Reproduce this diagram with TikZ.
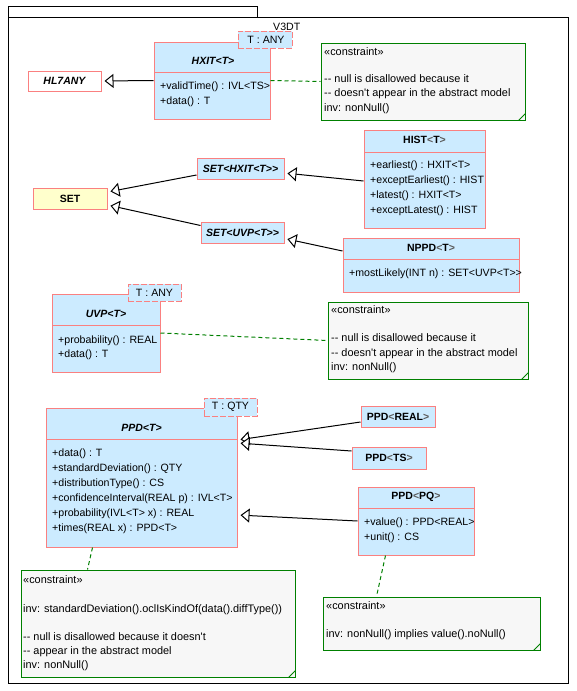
\documentclass[tikz,border=0pt]{standalone}
\usepackage{fontspec}
\newfontfamily\umlfont{Liberation Sans}
\usetikzlibrary{arrows.meta,fit,calc}
\definecolor{clsfill}{RGB}{204,235,255}
\definecolor{pinkb}{RGB}{250,128,128}
\definecolor{setfill}{RGB}{255,255,204}
\definecolor{notefill}{RGB}{247,247,247}
\definecolor{noteg}{RGB}{0,128,0}
\definecolor{brk}{RGB}{90,90,90}
\newcommand\ulb{{\color{brk}<}}
\newcommand\urb{{\color{brk}>}}
\newcommand\dd{-\kern0pt-}
\begin{document}
\begin{tikzpicture}[x=1pt,y=-1pt,
  cls/.style={draw=pinkb, fill=clsfill, line width=1pt, rectangle, inner sep=0pt},
  tmpl/.style={draw=pinkb, fill=clsfill, line width=1pt, dash pattern=on 6pt off 2pt, inner sep=0pt},
  notebox/.style={draw=noteg, fill=notefill, line width=1pt, inner sep=0pt},
  txt/.style={font=\umlfont\fontsize{10.6}{12}\selectfont, inner sep=0pt},
  hdr/.style={font=\umlfont\bfseries\fontsize{10.5}{12}\selectfont, inner sep=0pt},
  hdri/.style={font=\umlfont\bfseries\itshape\fontsize{10.5}{12}\selectfont, inner sep=0pt},
  ntxt/.style={font=\umlfont\fontsize{10.9}{12}\selectfont, inner sep=0pt, anchor=base west},
  gen/.style={-{Triangle[open, fill=white, length=9pt, width=14pt]}, line width=1pt, shorten >=3pt},
  anchorline/.style={draw=noteg, dash pattern=on 4pt off 3pt, line width=1pt},
  divline/.style={draw=pinkb, line width=1pt},
  fold/.style={draw=noteg, line width=1pt}
]
\fill[white] (0,0) rectangle (576,691);
\useasboundingbox (0,0) rectangle (576,691);

% package
\node[draw, line width=1pt, inner sep=0pt, fit={(8,6)(257,17)}] (tab) {};
\node[draw, line width=1pt, inner sep=0pt, fit={(8,17)(568,683)}] (pkg) {};
\node[txt, anchor=west] (pkgname) at (273,27) {V3DT};

% HL7ANY
\node[draw=pinkb, fill=white, line width=1pt, inner sep=0pt, fit={(28,71)(101,91)}] (hl7) {};
\node[hdri] (hl7t) at (hl7.center) {HL7ANY};

% HXIT
\node[cls, fit={(154,42)(270,119)}] (hxit) {};
\draw[divline] (154,72) -- (270,72);
\node[hdri] (hxith) at (213,61) {HXIT<T>};
\node[txt, anchor=west] (hxit1) at (160,87) {+validTime() : IVL<TS>};
\node[txt, anchor=west] (hxit2) at (160,102) {+data() : T};
\node[tmpl, fit={(238,31)(292,48)}] (hxittp) {};
\node[txt] (hxittpt) at (266,40) {T : ANY};

% note 1
\node[notebox, fit={(321,43)(525,120)}] (note1) {};
\draw[fold] ($(note1.south east)+(-7,0)$) -- ($(note1.south east)+(0,-7)$);
\node[ntxt] (note1a) at (324,55) {«constraint»};
\node[ntxt] (note1b) at (324,82) {\dd{} null is disallowed because it};
\node[ntxt] (note1c) at (324,96) {\dd{} doesn't appear in the abstract model};
\node[ntxt] (note1d) at (324,111) {inv: nonNull()};

% SET
\node[draw=pinkb, fill=setfill, line width=1pt, inner sep=0pt, fit={(33,188)(107,209)}] (set) {};
\node[hdr] (sett) at (set.center) {SET};

\node[cls, fit={(197,158)(284,179)}] (sethx) {};
\node[hdri] (sethxt) at (sethx.center) {SET<HXIT<T>\kern0pt>};
\node[cls, fit={(201,222)(284,243)}] (setuvp) {};
\node[hdri] (setuvpt) at (setuvp.center) {SET<UVP<T>\kern0pt>};

% HIST
\node[cls, fit={(364,130)(485,228)}] (hist) {};
\draw[divline] (364,152) -- (485,152);
\node[hdr] (histh) at (424.5,140) {HIST\ulb T\urb};
\node[txt, anchor=west] (hist1) at (370,166) {+earliest() : HXIT<T>};
\node[txt, anchor=west] (hist2) at (370,181) {+exceptEarliest() : HIST};
\node[txt, anchor=west] (hist3) at (370,196) {+latest() : HXIT<T>};
\node[txt, anchor=west] (hist4) at (370,211) {+exceptLatest() : HIST};

% NPPD
\node[cls, fit={(343,238)(519,292)}] (nppd) {};
\draw[divline] (343,259) -- (519,259);
\node[hdr] (nppdh) at (431,248) {NPPD\ulb T\urb};
\node[txt, anchor=west] (nppd1) at (349,274) {+mostLikely(INT n) : SET<UVP<T>\kern0pt>};

% UVP
\node[cls, fit={(52,294)(160,372)}] (uvp) {};
\draw[divline] (52,325) -- (160,325);
\node[hdri] (uvph) at (106,314) {UVP<T>};
\node[txt, anchor=west] (uvp1) at (58,341) {+probability() : REAL};
\node[txt, anchor=west] (uvp2) at (58,355) {+data() : T};
\node[tmpl, fit={(128,284)(181,301)}] (uvptp) {};
\node[txt] (uvptpt) at (154.5,293) {T : ANY};

% note 2
\node[notebox, fit={(328,302)(528,379)}] (note2) {};
\draw[fold] ($(note2.south east)+(-7,0)$) -- ($(note2.south east)+(0,-7)$);
\node[ntxt] (note2a) at (331,313) {«constraint»};
\node[ntxt] (note2b) at (331,341) {\dd{} null is disallowed because it};
\node[ntxt] (note2c) at (331,356) {\dd{} doesn't appear in the abstract model};
\node[ntxt] (note2d) at (331,370) {inv: nonNull()};

% PPD
\node[cls, fit={(46,408)(237,547)}] (ppd) {};
\draw[divline] (46,439) -- (237,439);
\node[hdri] (ppdh) at (141.5,428) {PPD<T>};
\node[txt, anchor=west] (ppd1) at (52,454) {+data() : T};
\node[txt, anchor=west] (ppd2) at (52,469) {+standardDeviation() : QTY};
\node[txt, anchor=west] (ppd3) at (52,484) {+distributionType() : CS};
\node[txt, anchor=west] (ppd4) at (52,499) {+confidenceInterval(REAL p) : IVL<T>};
\node[txt, anchor=west] (ppd5) at (52,514) {+probability(IVL<T> x) : REAL};
\node[txt, anchor=west] (ppd6) at (52,529) {+times(REAL x) : PPD<T>};
\node[tmpl, fit={(204,398)(257,416)}] (ppdtp) {};
\node[txt] (ppdtpt) at (230.5,407) {T : QTY};

% PPD subclasses
\node[cls, fit={(361,406)(435,427)}] (ppdreal) {};
\node[hdr] (ppdrealt) at (ppdreal.center) {PPD\ulb REAL\urb};
\node[cls, fit={(352,447)(426,469)}] (ppdts) {};
\node[hdr] (ppdtst) at (ppdts.center) {PPD\ulb TS\urb};
\node[cls, fit={(358,487)(474,555)}] (ppdpq) {};
\draw[divline] (358,508) -- (474,508);
\node[hdr] (ppdpqh) at (416,497) {PPD\ulb PQ\urb};
\node[txt, anchor=west] (ppdpq1) at (364,523) {+value() : PPD<REAL>};
\node[txt, anchor=west] (ppdpq2) at (364,538) {+unit() : CS};

% note 3
\node[notebox, fit={(21,570)(295,677)}] (note3) {};
\draw[fold] ($(note3.south east)+(-7,0)$) -- ($(note3.south east)+(0,-7)$);
\node[ntxt] (note3a) at (23,583) {«constraint»};
\node[ntxt] (note3b) at (23,612) {inv: standardDeviation().oclIsKindOf(data().diffType())};
\node[ntxt] (note3c) at (23,640) {\dd{} null is disallowed because it doesn't};
\node[ntxt] (note3d) at (23,654) {\dd{} appear in the abstract model};
\node[ntxt] (note3e) at (23,668) {inv: nonNull()};

% note 4
\node[notebox, fit={(323,597)(540,650)}] (note4) {};
\draw[fold] ($(note4.south east)+(-7,0)$) -- ($(note4.south east)+(0,-7)$);
\node[ntxt] (note4a) at (326,609) {«constraint»};
\node[ntxt] (note4b) at (326,637) {inv: nonNull() implies value().noNull()};

% generalizations
\draw[gen] (hxit.west) -- (hl7.east);
\draw[gen] ($(sethx.west)+(0,6.5)$) -- ($(set.east)+(0,-6.5)$);
\draw[gen] ($(setuvp.west)+(0,-7)$) -- ($(set.east)+(0,6.5)$);
\draw[gen] ($(hist.west)+(0,2)$) -- ($(sethx.east)+(0,4.5)$);
\draw[gen] ($(nppd.west)+(0,-14)$) -- ($(setuvp.east)+(0,6)$);
\draw[gen] ($(ppdreal.west)+(0,5.5)$) -- ($(ppd.east)+(0,-37.5)$);
\draw[gen] ($(ppdts.west)+(0,-7)$) -- ($(ppd.east)+(0,-34.5)$);
\draw[gen] (ppdpq.west) -- ($(ppd.east)+(0,37.5)$);

% note anchors
\draw[anchorline] (hxit.east) -- (note1.west);
\draw[anchorline] (uvp.east) -- (note2.west);
\draw[anchorline] ($(ppd.south west)+(47,0)$) -- ($(note3.north west)+(67,0)$);
\draw[anchorline] ($(ppdpq.south west)+(28,0)$) -- ($(note4.north west)+(54,0)$);
\end{tikzpicture}
\end{document}
